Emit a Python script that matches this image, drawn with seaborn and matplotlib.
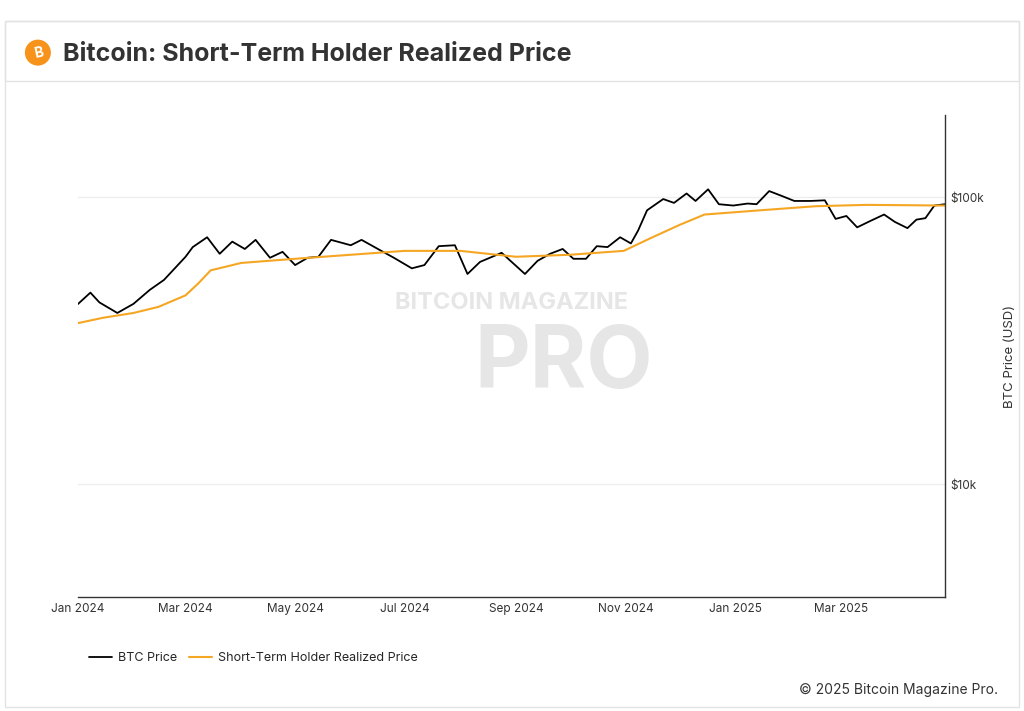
import numpy as np
import pandas as pd
import matplotlib.pyplot as plt
import matplotlib.dates as mdates
import matplotlib.ticker as mticker
from matplotlib.patches import Ellipse, Rectangle
import seaborn as sns

btc_dates = ["2024-01-01", "2024-01-08", "2024-01-13", "2024-01-23", "2024-02-01", "2024-02-10",
             "2024-02-18", "2024-03-01", "2024-03-05", "2024-03-13", "2024-03-20", "2024-03-27",
             "2024-04-03", "2024-04-09", "2024-04-17", "2024-04-24", "2024-05-01", "2024-05-08",
             "2024-05-14", "2024-05-21", "2024-06-01", "2024-06-07", "2024-06-18", "2024-06-25",
             "2024-07-05", "2024-07-12", "2024-07-20", "2024-07-29", "2024-08-05", "2024-08-12",
             "2024-08-24", "2024-09-06", "2024-09-13", "2024-09-20", "2024-09-27", "2024-10-03",
             "2024-10-10", "2024-10-16", "2024-10-22", "2024-10-29", "2024-11-04", "2024-11-08",
             "2024-11-13", "2024-11-22", "2024-11-28", "2024-12-05", "2024-12-10", "2024-12-17",
             "2024-12-23", "2024-12-31", "2025-01-08", "2025-01-13", "2025-01-20", "2025-01-27",
             "2025-02-03", "2025-02-12", "2025-02-20", "2025-02-26", "2025-03-04", "2025-03-10",
             "2025-03-18", "2025-03-25", "2025-03-31", "2025-04-07", "2025-04-12", "2025-04-17",
             "2025-04-22", "2025-04-28"]
btc_price = [42.4, 46.5, 43.0, 39.5, 42.5, 47.5, 51.5, 62.0, 67.0, 72.5, 63.5, 70.0,
             66.0, 71.0, 61.5, 64.5, 58.0, 61.5, 62.0, 71.0, 68.0, 71.0, 65.0, 61.5,
             56.5, 58.0, 67.5, 68.0, 54.0, 59.5, 64.0, 54.0, 60.0, 63.5, 66.0, 61.0,
             61.0, 67.5, 67.0, 72.5, 69.0, 76.5, 90.0, 98.5, 95.5, 103.0, 97.0, 106.5,
             94.5, 93.5, 95.0, 94.5, 105.0, 101.0, 97.0, 97.0, 97.5, 84.0, 86.0, 78.5,
             83.0, 87.0, 82.0, 78.0, 83.5, 84.5, 93.5, 94.5]

sth_dates = ["2024-01-01", "2024-01-15", "2024-02-01", "2024-02-15", "2024-03-01", "2024-03-08",
             "2024-03-15", "2024-04-01", "2024-05-01", "2024-06-01", "2024-07-01", "2024-08-01",
             "2024-09-01", "2024-10-01", "2024-10-31", "2024-11-15", "2024-12-01", "2024-12-15",
             "2025-01-15", "2025-02-15", "2025-03-15", "2025-04-28"]
sth_price = [36.4, 38.0, 39.5, 41.5, 45.5, 50.0, 55.6, 59.0, 61.0, 63.0, 65.0, 65.0,
             62.0, 63.0, 65.0, 72.0, 80.0, 87.0, 90.0, 93.0, 94.0, 93.5]

btc = pd.DataFrame({"date": pd.to_datetime(btc_dates), "price": np.array(btc_price) * 1000})
sth = pd.DataFrame({"date": pd.to_datetime(sth_dates), "price": np.array(sth_price) * 1000})

sns.set_style("white")
plt.rcParams['font.family'] = ['Inter', 'DejaVu Sans']

fig = plt.figure(figsize=(10.24, 7.11), dpi=100)
# header and frame
fig.patches.append(Rectangle((0.005, 0.005), 0.99, 0.965, transform=fig.transFigure,
                             fill=False, edgecolor='#e3e3e3', lw=1))
fig.patches.append(Rectangle((0.005, 0.886), 0.99, 0.084, transform=fig.transFigure,
                             fill=False, edgecolor='#e3e3e3', lw=1))
fig.patches.append(Ellipse((0.037, 0.926), 26 / 1024, 26 / 711, transform=fig.transFigure,
                           facecolor='#f7931a', edgecolor='none'))
fig.text(0.0375, 0.925, "B", color='white', fontsize=10, fontweight='bold',
         ha='center', va='center', rotation=12)
fig.text(0.062, 0.924, "Bitcoin: Short-Term Holder Realized Price", fontsize=18,
         fontweight='bold', color='#333333', va='center')

ax = fig.add_axes([0.076, 0.160, 0.847, 0.678])
sns.lineplot(data=btc, x="date", y="price", ax=ax, color='black', lw=1.3, label="BTC Price")
sns.lineplot(data=sth, x="date", y="price", ax=ax, color='#f5a623', lw=1.5,
             label="Short-Term Holder Realized Price")

ax.set_yscale('log')
ax.set_ylim(4040, 193000)
ax.set_xlim(pd.Timestamp("2024-01-01"), pd.Timestamp("2025-04-28"))
ax.yaxis.tick_right()
ax.yaxis.set_label_position('right')
ax.yaxis.set_major_locator(mticker.FixedLocator([10000, 100000]))
ax.yaxis.set_minor_locator(mticker.NullLocator())
ax.set_yticklabels(["$10k", "$100k"])
ax.grid(axis='y', color='#eeeeee', lw=1)
ax.xaxis.set_major_locator(mdates.MonthLocator(bymonth=[1, 3, 5, 7, 9, 11]))
ax.xaxis.set_major_formatter(mdates.DateFormatter('%b %Y'))
ax.tick_params(labelsize=8.5, colors='#333333', length=0, pad=4)
ax.set_xlabel("")
ax.set_ylabel("BTC Price (USD)", fontsize=9.5, color='#333333', labelpad=14)
for s in ['top', 'left']:
    ax.spines[s].set_visible(False)
for s in ['right', 'bottom']:
    ax.spines[s].set_color('#333333')
    ax.spines[s].set_linewidth(1)

ax.text(0.5, 0.61, "BITCOIN MAGAZINE", transform=ax.transAxes, fontsize=17, fontweight='bold',
        color='#e6e6e6', ha='center', va='center', zorder=0)
ax.text(0.56, 0.48, "PRO", transform=ax.transAxes, fontsize=62, fontweight='bold',
        color='#e6e6e6', ha='center', va='center', zorder=0)

ax.legend(loc='upper left', bbox_to_anchor=(0.0, -0.09), ncol=2, frameon=False,
          fontsize=9, handlelength=1.8, handletextpad=0.5, columnspacing=1.0)
fig.text(0.975, 0.024, "© 2025 Bitcoin Magazine Pro.", fontsize=10, ha='right', color='#333333')

fig.savefig("out.png", dpi=100)
